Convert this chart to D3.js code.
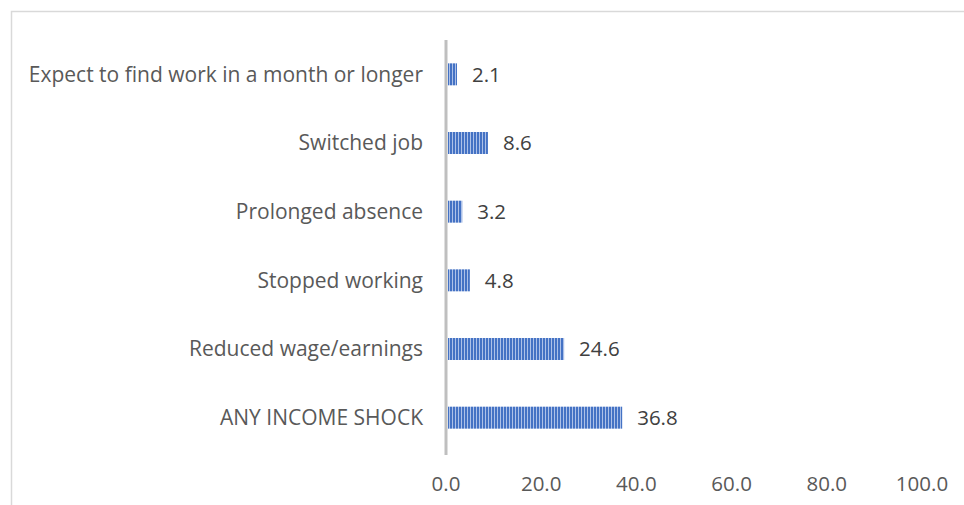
<!DOCTYPE html>
<meta charset="utf-8">
<style>
body { margin: 0; background: #fff; }
svg text { font-family: "Open Sans", "Noto Sans", sans-serif; }
</style>
<svg width="964" height="505"></svg>
<script src="https://d3js.org/d3.v7.min.js"></script>
<script>
var categories = ["Expect to find work in a month or longer", "Switched job", "Prolonged absence",
                  "Stopped working", "Reduced wage/earnings", "ANY INCOME SHOCK"];
var values = [2.1, 8.6, 3.2, 4.8, 24.6, 36.8];
var ticks = [0, 20, 40, 60, 80, 100];

var svg = d3.select("svg");

// chart frame (only top/left edges visible)
svg.append("rect")
    .attr("x", 11.5).attr("y", 11.5)
    .attr("width", 1000).attr("height", 600)
    .attr("fill", "none")
    .attr("stroke", "#d9d9d9")
    .attr("stroke-width", 1.5);

var defs = svg.append("defs");
var pat = defs.append("pattern")
    .attr("id", "stripes")
    .attr("patternUnits", "userSpaceOnUse")
    .attr("width", 3).attr("height", 10);
pat.append("rect").attr("width", 3).attr("height", 10).attr("fill", "#adc1e8");
pat.append("rect").attr("width", 2).attr("height", 10).attr("fill", "#4472c4");

var x = d3.scaleLinear().domain([0, 100]).range([446, 922]);
var y = d3.scaleBand().domain(categories).range([40, 452]).paddingInner(0.68).paddingOuter(0.34);

svg.append("g").selectAll("rect")
  .data(values)
  .enter().append("rect")
    .attr("x", x(0) + 2)
    .attr("y", function(d, i) { return y(categories[i]); })
    .attr("width", function(d) { return x(d) - x(0) - 1; })
    .attr("height", y.bandwidth())
    .attr("fill", "url(#stripes)");

// vertical axis line
svg.append("line")
    .attr("x1", x(0)).attr("x2", x(0))
    .attr("y1", 40).attr("y2", 455)
    .attr("stroke", "#bfbfbf")
    .attr("stroke-width", 3);

svg.append("g").selectAll("text")
  .data(values)
  .enter().append("text")
    .attr("x", function(d) { return x(d) + 16; })
    .attr("y", function(d, i) { return y(categories[i]) + y.bandwidth() / 2; })
    .attr("dy", "0.35em")
    .attr("font-size", 20.5)
    .attr("fill", "#404040")
    .text(function(d) { return d.toFixed(1); });

svg.append("g").selectAll("text")
  .data(categories)
  .enter().append("text")
    .attr("x", 423)
    .attr("y", function(d) { return y(d) + y.bandwidth() / 2; })
    .attr("dy", "0.35em")
    .attr("text-anchor", "end")
    .attr("font-size", 21)
    .attr("fill", "#595959")
    .text(function(d) { return d; });

svg.append("g").selectAll("text")
  .data(ticks)
  .enter().append("text")
    .attr("x", function(d) { return x(d); })
    .attr("y", 484)
    .attr("dy", "0.35em")
    .attr("text-anchor", "middle")
    .attr("font-size", 20.5)
    .attr("fill", "#595959")
    .text(function(d) { return d.toFixed(1); });
</script>
